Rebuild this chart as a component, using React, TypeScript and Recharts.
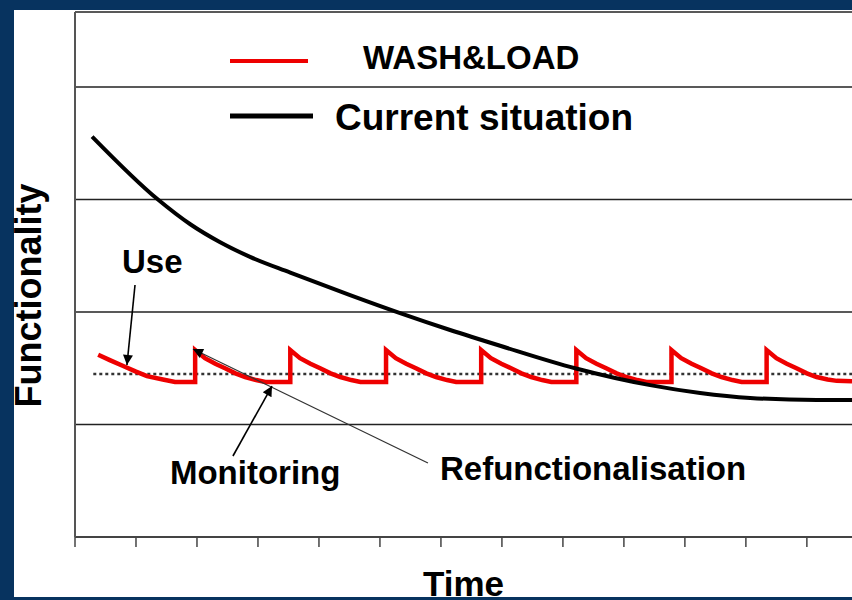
import {
  LineChart, Line, XAxis, YAxis, CartesianGrid,
  ReferenceLine, ReferenceDot, Legend, Label,
} from 'recharts';

// x = time in tick steps, y = functionality in grid steps
const X_TICKS = [0, 1, 2, 3, 4, 5, 6, 7, 8, 9, 10, 11, 12];
const Y_TICKS = [0, 1, 2, 3, 4, 4.667];

const CURRENT_T = [0.28, 1.36, 1.89, 2.38, 2.87, 3.53, 4.51, 5.33, 6.15, 6.97, 8.20, 9.43, 10.25, 11.07, 12.16, 12.74];
const CURRENT_V = [3.56, 3.00, 2.78, 2.62, 2.49, 2.35, 2.15, 1.99, 1.84, 1.70, 1.50, 1.35, 1.28, 1.236, 1.218, 1.218];

const WASH_T = [
  0.38, 0.58, 0.79, 1.00, 1.18, 1.44, 1.64, 1.97,
  1.97, 2.13, 2.30, 2.46, 2.63, 2.79, 2.97, 3.12, 3.53,
  3.53, 3.69, 3.86, 4.02, 4.19, 4.35, 4.53, 4.68, 5.10,
  5.10, 5.26, 5.43, 5.59, 5.76, 5.92, 6.10, 6.25, 6.66,
  6.66, 6.82, 6.99, 7.15, 7.32, 7.48, 7.66, 7.81, 8.22,
  8.22, 8.38, 8.55, 8.71, 8.88, 9.04, 9.22, 9.37, 9.78,
  9.78, 9.94, 10.11, 10.27, 10.44, 10.60, 10.78, 10.93, 11.34,
  11.34, 11.50, 11.67, 11.83, 12.00, 12.16, 12.34, 12.49, 12.74,
];
const WASH_V = [
  1.62, 1.57, 1.52, 1.47, 1.43, 1.40, 1.378, 1.378,
  1.662, 1.59, 1.54, 1.50, 1.455, 1.422, 1.395, 1.378, 1.378,
  1.662, 1.59, 1.54, 1.50, 1.455, 1.422, 1.395, 1.378, 1.378,
  1.662, 1.59, 1.54, 1.50, 1.455, 1.422, 1.395, 1.378, 1.378,
  1.662, 1.59, 1.54, 1.50, 1.455, 1.422, 1.395, 1.378, 1.378,
  1.662, 1.59, 1.54, 1.50, 1.455, 1.422, 1.395, 1.378, 1.378,
  1.662, 1.59, 1.54, 1.50, 1.455, 1.422, 1.395, 1.378, 1.378,
  1.662, 1.59, 1.54, 1.50, 1.455, 1.422, 1.400, 1.388, 1.385,
];

const LEVEL_T = [0.30, 12.74];
const LEVEL_V = [1.449, 1.449];

// annotations (data coords): text anchor = left/baseline, arrows tail -> tip
const NOTES = [
  { text: 'Use', t: 0.77, v: 2.347 },
  { text: 'Monitoring', t: 1.557, v: 0.47 },
  { text: 'Refunctionalisation', t: 5.984, v: 0.51 },
];
const ARROWS = [
  { from: [0.984, 2.24], to: [0.852, 1.529], w: 1.6, color: '#000' },
  { from: [5.787, 0.658], to: [1.934, 1.671], w: 1.3, color: '#333' },
  { from: [2.59, 0.72], to: [3.23, 1.342], w: 1.6, color: '#000' },
];

const FONT = '"Liberation Sans", Arial, sans-serif';
const BLUE = '#07335f';

const zip = (ts: number[], vs: number[]) => ts.map((t, i) => ({ t, v: vs[i] }));
const noTick = () => <g />;

const LEGEND_POS: Record<string, { y: number; x2: number; tx: number; ty: number; size: number; w: number }> = {
  'WASH&LOAD':         { y: 61,  x2: 308, tx: 363, ty: 69,  size: 33, w: 4 },
  'Current situation': { y: 116, x2: 313, tx: 335, ty: 130, size: 37, w: 5 },
};

function renderLegend({ payload }: any) {
  return (
    <svg width={852} height={150} style={{ display: 'block' }}>
      {(payload ?? []).map((e: any) => {
        const p = LEGEND_POS[e.value];
        if (!p) return null;
        return (
          <g key={e.value}>
            <line x1={230} x2={p.x2} y1={p.y} y2={p.y} stroke={e.color} strokeWidth={p.w} />
            <text x={p.tx} y={p.ty} fontFamily={FONT} fontWeight="bold" fontSize={p.size} fill="#000">
              {e.value}
            </text>
          </g>
        );
      })}
    </svg>
  );
}

export default function App() {
  return (
    <div style={{ position: 'absolute', left: 0, top: 0, width: 852, height: 600, background: BLUE, overflow: 'hidden' }}>
      <div style={{ position: 'absolute', left: 14, top: 10, width: 838, height: 587, background: '#fff' }} />
      <svg width={0} height={0} style={{ position: 'absolute' }}>
        <defs>
          <marker id="head" viewBox="0 0 10 10" refX={10} refY={5} markerWidth={14} markerHeight={10}
            markerUnits="userSpaceOnUse" orient="auto">
            <path d="M0,0 L10,5 L0,10 z" fill="#000" />
          </marker>
        </defs>
      </svg>
      <div style={{ position: 'absolute', left: 0, top: 0 }}>
        <LineChart width={852} height={600} margin={{ top: 12, right: 0, left: 74, bottom: 23 }}>
          <CartesianGrid vertical={false} stroke="#222" strokeWidth={1.5} />
          <XAxis
            type="number" dataKey="t" domain={[0, 12.74]} ticks={X_TICKS}
            allowDataOverflow tick={noTick} tickSize={10} height={40}
            axisLine={{ stroke: '#444', strokeWidth: 2 }} tickLine={{ stroke: '#444', strokeWidth: 1.5 }}
          >
            <Label content={({ viewBox }: any) => (
              <text x={viewBox.x + viewBox.width / 2} y={viewBox.y + 59} textAnchor="middle"
                fontFamily={FONT} fontWeight="bold" fontSize={35} fill="#000">Time</text>
            )} />
          </XAxis>
          <YAxis
            type="number" domain={[0, 4.667]} ticks={Y_TICKS} allowDataOverflow
            width={1} tick={noTick} tickLine={false} axisLine={{ stroke: '#555', strokeWidth: 2 }}
          >
            <Label content={({ viewBox }: any) => {
              const cx = 41;
              const cy = viewBox.y + viewBox.height / 2 + 21;
              return (
                <text x={cx} y={cy} transform={`rotate(-90 ${cx} ${cy})`} textAnchor="middle"
                  fontFamily={FONT} fontWeight="bold" fontSize={36} fill="#000">Functionality</text>
              );
            }} />
          </YAxis>
          <Legend layout="horizontal" verticalAlign="middle" align="center"
            wrapperStyle={{ left: 0, top: 0, width: 852, height: 150 }} content={renderLegend} />
          <Line data={zip(LEVEL_T, LEVEL_V)} dataKey="v" name="level" legendType="none"
            stroke="#333" strokeWidth={2.5} strokeDasharray="3 3" dot={false} isAnimationActive={false} />
          <Line data={zip(WASH_T, WASH_V)} dataKey="v" name="WASH&LOAD" type="linear"
            stroke="#ee0000" strokeWidth={4.5} strokeLinejoin="miter" dot={false} isAnimationActive={false} />
          <Line data={zip(CURRENT_T, CURRENT_V)} dataKey="v" name="Current situation" type="monotone"
            stroke="#000" strokeWidth={4} dot={false} isAnimationActive={false} />
          {ARROWS.map((a, i) => (
            <ReferenceLine key={i} segment={[{ x: a.from[0], y: a.from[1] }, { x: a.to[0], y: a.to[1] }]}
              ifOverflow="visible"
              shape={(p: any) => (
                <line x1={p.x1} y1={p.y1} x2={p.x2} y2={p.y2} stroke={a.color} strokeWidth={a.w} markerEnd="url(#head)" />
              )} />
          ))}
          {NOTES.map(n => (
            <ReferenceDot key={n.text} x={n.t} y={n.v} r={0} ifOverflow="visible"
              shape={(p: any) => (
                <text x={p.cx} y={p.cy} fontFamily={FONT} fontWeight="bold" fontSize={33} fill="#000">{n.text}</text>
              )} />
          ))}
        </LineChart>
      </div>
    </div>
  );
}
